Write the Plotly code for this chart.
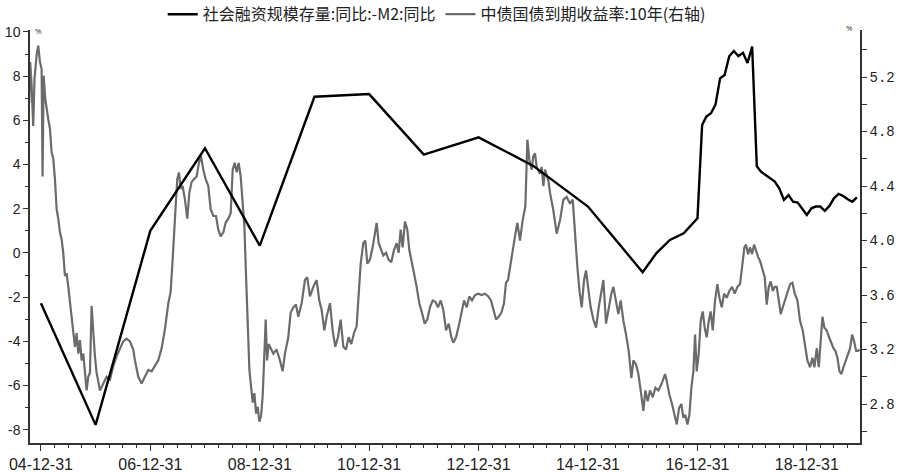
import numpy as np
import pandas as pd
import plotly.graph_objects as go

# ---------------- data ----------------
# 社会融资规模存量同比 - M2同比 (left axis, %)
spread_dates = [
    "2004-12-31", "2005-12-31", "2006-12-31", "2007-12-31", "2008-12-31",
    "2009-12-31", "2010-12-31", "2011-12-31", "2012-12-31", "2013-12-31",
    "2014-12-31", "2015-12-31", "2016-03-31", "2016-06-30", "2016-09-30",
    "2016-12-31",
    "2017-01-31", "2017-02-28", "2017-03-31", "2017-04-30", "2017-05-31", "2017-06-30",
    "2017-07-31", "2017-08-31", "2017-09-30", "2017-10-31", "2017-11-30", "2017-12-31",
    "2018-01-31", "2018-02-28", "2018-03-31", "2018-04-30", "2018-05-31", "2018-06-30",
    "2018-07-31", "2018-08-31", "2018-09-30", "2018-10-31", "2018-11-30", "2018-12-31",
    "2019-01-31", "2019-02-28", "2019-03-31", "2019-04-30", "2019-05-31", "2019-06-30",
    "2019-07-31", "2019-08-31", "2019-09-30", "2019-10-31", "2019-11-30",
]
spread_values = [
    -2.28, -7.78, 1.0, 4.74, 0.33,
    7.07, 7.19, 4.45, 5.23, 3.94,
    2.1, -0.87, -0.02, 0.59, 0.89,
    1.57,
    5.79, 6.17, 6.32, 6.7, 7.9, 8.05,
    8.9, 9.14, 8.91, 9.06, 8.6, 9.34,
    3.92, 3.68, 3.53, 3.38, 3.23, 2.93,
    2.4, 2.62, 2.32, 2.28, 2.02, 1.72,
    2.02, 2.1, 2.1, 1.91, 2.13, 2.47,
    2.67, 2.58, 2.43, 2.32, 2.52,
]

# 中债国债到期收益率:10年 (right axis, %), sampled at decimal-year times
yield_time = [
    2004.786, 2004.804, 2004.829, 2004.859, 2004.883, 2004.921, 2004.951, 2004.982, 2005.012, 2005.03,
    2005.049, 2005.079, 2005.134, 2005.165, 2005.195, 2005.226, 2005.256, 2005.287, 2005.317, 2005.347,
    2005.378, 2005.408, 2005.439, 2005.469, 2005.5, 2005.53, 2005.561, 2005.591, 2005.622, 2005.652,
    2005.683, 2005.713, 2005.743, 2005.774, 2005.804, 2005.835, 2005.865, 2005.896, 2005.926, 2005.956,
    2005.987, 2006.017, 2006.048, 2006.079, 2006.14, 2006.2, 2006.261, 2006.322, 2006.383, 2006.444,
    2006.505, 2006.566, 2006.627, 2006.688, 2006.718, 2006.779, 2006.84, 2006.9, 2006.962, 2007.023,
    2007.084, 2007.145, 2007.206, 2007.267, 2007.328, 2007.37, 2007.407, 2007.431, 2007.462, 2007.492,
    2007.523, 2007.553, 2007.59, 2007.632, 2007.675, 2007.712, 2007.754, 2007.797, 2007.846, 2007.888,
    2007.925, 2007.968, 2008.011, 2008.059, 2008.102, 2008.151, 2008.2, 2008.242, 2008.285, 2008.334,
    2008.376, 2008.425, 2008.468, 2008.505, 2008.541, 2008.578, 2008.614, 2008.651, 2008.688, 2008.718,
    2008.749, 2008.779, 2008.81, 2008.84, 2008.871, 2008.901, 2008.932, 2008.962, 2008.992, 2009.023,
    2009.053, 2009.084, 2009.108, 2009.133, 2009.163,
    2009.247, 2009.308, 2009.369, 2009.418, 2009.46, 2009.521, 2009.564, 2009.613, 2009.661, 2009.704,
    2009.765, 2009.826, 2009.868, 2009.917, 2009.978, 2010.039, 2010.088, 2010.131, 2010.179, 2010.222,
    2010.283, 2010.332, 2010.38, 2010.429, 2010.478, 2010.527, 2010.575, 2010.624, 2010.673, 2010.722,
    2010.77, 2010.807, 2010.844, 2010.892, 2010.929, 2010.966, 2011.014, 2011.063, 2011.106, 2011.136,
    2011.173, 2011.215, 2011.258, 2011.307, 2011.355, 2011.404, 2011.453, 2011.502, 2011.538, 2011.575,
    2011.611, 2011.654, 2011.697, 2011.733, 2011.776, 2011.819, 2011.867, 2011.916, 2011.965, 2012.014,
    2012.062, 2012.111, 2012.16, 2012.209, 2012.257, 2012.306, 2012.355, 2012.404, 2012.453, 2012.501,
    2012.538, 2012.587, 2012.635, 2012.684, 2012.733, 2012.782, 2012.83, 2012.879, 2012.934, 2012.995,
    2013.056, 2013.117, 2013.177, 2013.226, 2013.269, 2013.318, 2013.366, 2013.415, 2013.464, 2013.5,
    2013.537, 2013.573, 2013.622, 2013.665, 2013.708, 2013.756, 2013.805, 2013.854,
    2013.891, 2013.927, 2013.97, 2014.0, 2014.031, 2014.061, 2014.122, 2014.153, 2014.183, 2014.214,
    2014.275, 2014.305, 2014.366, 2014.427, 2014.488, 2014.549, 2014.61, 2014.671, 2014.72,
    2014.744, 2014.78, 2014.804, 2014.841, 2014.884, 2014.927, 2014.963, 2015.006, 2015.048, 2015.097,
    2015.146, 2015.195, 2015.244, 2015.28, 2015.329, 2015.377, 2015.426, 2015.463, 2015.512,
    2015.554, 2015.597, 2015.646, 2015.694, 2015.743, 2015.792, 2015.828, 2015.877, 2015.92, 2015.962,
    2016.011, 2016.048, 2016.09, 2016.133, 2016.182, 2016.231, 2016.285, 2016.346, 2016.407, 2016.438,
    2016.486, 2016.535, 2016.584, 2016.621, 2016.663, 2016.706, 2016.742, 2016.779, 2016.816, 2016.852,
    2016.889, 2016.925, 2016.956, 2016.986, 2017.023, 2017.059, 2017.096, 2017.132, 2017.169, 2017.206,
    2017.242, 2017.279, 2017.321, 2017.364, 2017.401, 2017.443, 2017.486, 2017.535, 2017.583, 2017.632,
    2017.681, 2017.73, 2017.778, 2017.821, 2017.858, 2017.888, 2017.925, 2017.961, 2017.998, 2018.034,
    2018.071, 2018.108, 2018.144, 2018.187, 2018.229, 2018.266, 2018.303, 2018.339, 2018.376, 2018.412,
    2018.449, 2018.486, 2018.522, 2018.559, 2018.601, 2018.644, 2018.693, 2018.735, 2018.778, 2018.827,
    2018.875, 2018.924, 2018.967, 2019.009, 2019.058, 2019.101, 2019.137, 2019.18, 2019.217, 2019.253,
    2019.284, 2019.32, 2019.363, 2019.406, 2019.448, 2019.485, 2019.521, 2019.558, 2019.595, 2019.631,
    2019.668, 2019.71, 2019.753, 2019.79, 2019.826, 2019.863, 2019.9, 2019.936, 2019.96,
]
yield_values = [
    5.01, 5.31, 5.14, 4.84, 5.19, 5.36, 5.43, 5.31, 5.26, 4.47,
    5.21, 5.04, 4.89, 4.82, 4.65, 4.6, 4.45, 4.23, 4.16, 4.06,
    4.01, 3.91, 3.74, 3.76, 3.66, 3.54, 3.42, 3.30, 3.22, 3.32,
    3.17, 3.27, 3.12, 3.17, 3.03, 2.9, 3.0, 3.03, 3.52, 3.30,
    3.15, 3.03, 2.95, 2.9, 2.95, 3.0, 2.98, 3.08, 3.15, 3.21,
    3.26, 3.28, 3.26, 3.2, 3.12, 3.0, 2.95, 3.0, 3.05, 3.04,
    3.08, 3.12, 3.21, 3.35, 3.54, 3.62, 3.86, 4.06, 4.25, 4.45,
    4.5, 4.38, 4.4, 4.3, 4.16, 4.35, 4.43, 4.45, 4.47, 4.57,
    4.62, 4.52, 4.45, 4.4, 4.23, 4.18, 4.18, 4.08, 4.03, 4.06,
    4.13, 4.16, 4.2, 4.52, 4.57, 4.5, 4.57, 4.47, 4.25, 4.11,
    3.74, 3.42, 3.05, 2.93, 2.81, 2.88, 2.73, 2.78, 2.67, 2.71,
    2.86, 3.17, 3.42, 3.12, 3.24,
    3.17, 3.2, 3.12, 3.04, 3.17, 3.29, 3.47, 3.51, 3.53, 3.44,
    3.54, 3.71, 3.73, 3.59, 3.66, 3.71, 3.56, 3.49, 3.34, 3.44,
    3.54, 3.34, 3.22, 3.29, 3.42, 3.22, 3.2, 3.29, 3.24, 3.32,
    3.37, 3.61, 3.83, 3.98, 4.0, 3.83, 3.86, 3.95, 4.05, 4.13,
    3.98, 3.93, 3.89, 3.91, 3.86, 3.84, 3.93, 3.98, 3.91, 4.08,
    3.95, 4.14, 4.08, 3.93, 3.83, 3.76, 3.66, 3.54, 3.47, 3.39,
    3.42, 3.51, 3.56, 3.55, 3.51, 3.56, 3.49, 3.34, 3.39, 3.29,
    3.25, 3.29, 3.37, 3.47, 3.56, 3.51, 3.59, 3.56, 3.6, 3.61,
    3.6, 3.61, 3.59, 3.56, 3.49, 3.42, 3.44, 3.47, 3.54, 3.69,
    3.71, 3.81, 3.91, 4.03, 4.13, 4.0, 4.15, 4.25,
    4.74, 4.59, 4.52, 4.62, 4.64, 4.54, 4.49, 4.54, 4.4, 4.52,
    4.44, 4.35, 4.22, 4.05, 4.15, 4.3, 4.32, 4.27, 4.3,
    4.15, 4.0, 3.81, 3.64, 3.51, 3.71, 3.78, 3.64, 3.51, 3.42,
    3.36, 3.51, 3.64, 3.71, 3.39, 3.51, 3.61, 3.66, 3.56,
    3.46, 3.56, 3.41, 3.31, 3.19, 2.99, 3.12, 3.09, 3.02, 2.9,
    2.75, 2.9, 2.82, 2.9, 2.85, 2.92, 2.9, 2.95, 3.02, 2.97,
    2.87, 2.8, 2.72, 2.65, 2.77, 2.8, 2.7, 2.72, 2.65, 2.72,
    2.92, 3.04, 3.31, 3.04, 3.17, 3.41, 3.48, 3.36, 3.29, 3.41,
    3.48, 3.34, 3.56, 3.68, 3.58, 3.51, 3.61, 3.58, 3.63, 3.66,
    3.61, 3.66, 3.68, 3.83, 3.95, 3.97, 3.9, 3.95, 3.9, 3.97,
    3.92, 3.88, 3.85, 3.78, 3.73, 3.53, 3.66, 3.7, 3.63, 3.66,
    3.66, 3.56, 3.46, 3.51, 3.56, 3.61, 3.68, 3.69, 3.61, 3.56,
    3.41, 3.34, 3.21, 3.12, 3.07, 3.14, 3.07, 3.21, 3.07, 3.26,
    3.44, 3.36, 3.34, 3.29, 3.24, 3.21, 3.19, 3.14, 3.04, 3.02,
    3.07, 3.12, 3.17, 3.21, 3.31, 3.26, 3.19, 3.19, 3.2,
]

left_ticks = [-8, -6, -4, -2, 0, 2, 4, 6, 8, 10]
left_ticktext = ["-8", "-6", "-4", "-2", "0", "2", "4", "6", "8", "10"]
right_ticks = [2.8, 3.2, 3.6, 4.0, 4.4, 4.8, 5.2]
right_ticktext = ["2.8", "3.2", "3.6", "4.0", "4.4", "4.8", "5.2"]
x_tickvals = ["2004-12-31", "2005-12-31", "2006-12-31", "2007-12-31", "2008-12-31",
              "2009-12-31", "2010-12-31", "2011-12-31", "2012-12-31", "2013-12-31",
              "2014-12-31", "2015-12-31", "2016-12-31", "2017-12-31", "2018-12-31"]
x_ticktext = ["04-12-31", "", "06-12-31", "", "08-12-31", "", "10-12-31", "",
              "12-12-31", "", "14-12-31", "", "16-12-31", "", "18-12-31"]

name_spread = "社会融资规模存量:同比:-M2:同比"
name_yield = "中债国债到期收益率:10年(右轴)"

# ---------------- figure ----------------
yield_dates = pd.Timestamp("2004-12-31") + pd.to_timedelta(
    (np.array(yield_time) - 2005.0) * 365.25, unit="D")
quarter_ticks = pd.date_range("2004-12-31", "2019-12-31", freq="QE")

fig = go.Figure()
fig.add_trace(go.Scatter(
    x=pd.to_datetime(spread_dates), y=spread_values, name=name_spread,
    mode="lines", line=dict(color="#000000", width=2.4), yaxis="y2"))
fig.add_trace(go.Scatter(
    x=yield_dates, y=yield_values, name=name_yield,
    mode="lines", line=dict(color="#6b6b6b", width=2.2), yaxis="y"))

axis_col = "#333333"
tick_font = dict(family="Liberation Sans, Arial, sans-serif", size=14, color="#222222")

fig.update_layout(
    width=900, height=472,
    margin=dict(l=30, r=40, t=30, b=29, autoexpand=False),
    paper_bgcolor="white", plot_bgcolor="white",
    showlegend=True,
    legend=dict(orientation="h", x=0.49, xanchor="center", y=1.038, yanchor="middle",
                yref="paper", font=dict(family="Noto Sans CJK SC", size=16, color="#222222"),
                bgcolor="rgba(0,0,0,0)", itemwidth=30, tracegroupgap=0),
    xaxis=dict(
        type="date", range=["2004-10-19", "2019-12-21"],
        showline=True, linecolor=axis_col, linewidth=1.5, mirror=False,
        showgrid=False, zeroline=False,
        tickmode="array", tickvals=x_tickvals, ticktext=x_ticktext,
        ticks="outside", ticklen=6, tickcolor=axis_col, tickwidth=1,
        tickfont=dict(family="Liberation Sans, Arial, sans-serif", size=16, color="#222222"),
        minor=dict(tickmode="array", tickvals=list(quarter_ticks), ticks="outside",
                   ticklen=3, tickcolor=axis_col, showgrid=False),
        anchor="y", automargin=False,
    ),
    yaxis=dict(
        side="right", range=[2.514, 5.545],
        showline=True, linecolor=axis_col, linewidth=1.5,
        showgrid=False, zeroline=False, automargin=False,
        tickmode="array", tickvals=right_ticks, ticktext=right_ticktext,
        ticks="outside", ticklen=5, tickcolor=axis_col,
        tickfont=dict(family="Liberation Mono, DejaVu Sans Mono, monospace", size=14, color="#222222"),
        minor=dict(tickmode="linear", tick0=2.6, dtick=0.2, ticks="outside",
                   ticklen=5, tickcolor=axis_col, showgrid=False),
    ),
    yaxis2=dict(
        side="left", overlaying="y", range=[-8.6, 10.09],
        showline=True, linecolor=axis_col, linewidth=1.5,
        showgrid=False, zeroline=False, automargin=False,
        tickmode="array", tickvals=left_ticks, ticktext=left_ticktext,
        ticks="outside", ticklen=5, tickcolor=axis_col,
        tickfont=tick_font,
        minor=dict(tickmode="linear", tick0=-9, dtick=1, ticks="outside",
                   ticklen=3, tickcolor=axis_col, showgrid=False),
    ),
    annotations=[
        dict(text="%", xref="paper", yref="paper", x=0.004, y=1.0, xanchor="left",
             yanchor="middle", showarrow=False, font=dict(size=8, color="#333333")),
        dict(text="%", xref="paper", yref="paper", x=0.994, y=1.005, xanchor="right",
             yanchor="middle", showarrow=False, font=dict(size=8, color="#333333")),
    ],
)

fig.write_html("out.html", config={"displayModeBar": False},
               post_script="document.body.style.margin='0';")
